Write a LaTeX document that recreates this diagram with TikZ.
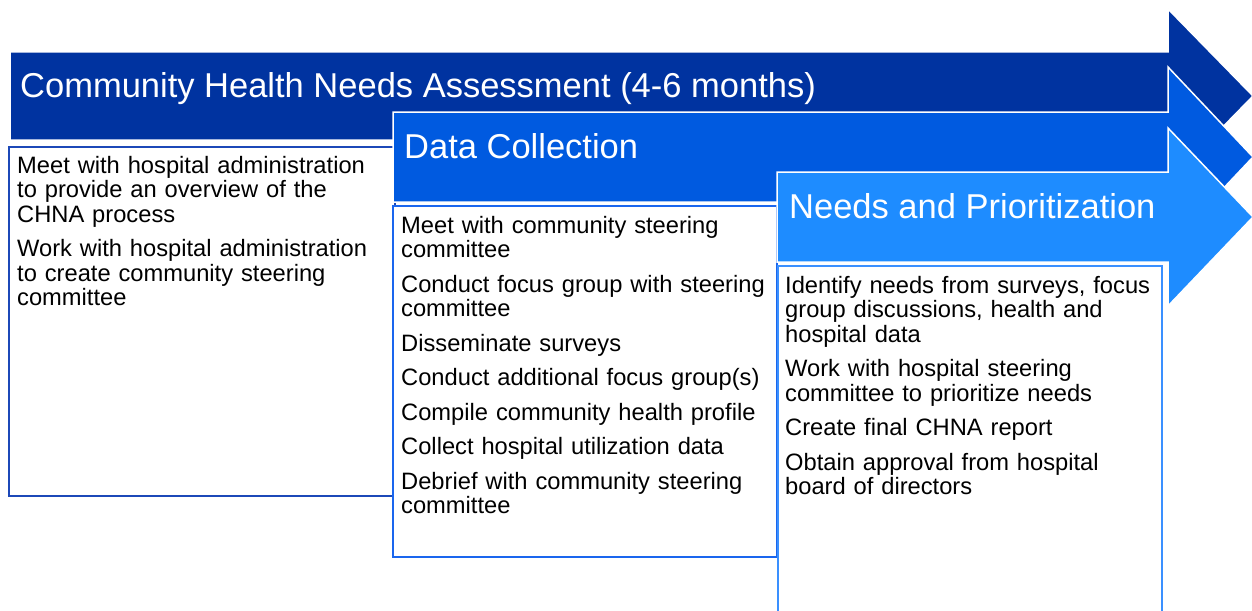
\documentclass[tikz,border=0pt]{standalone}
\usepackage{fontspec}
\setmainfont{Liberation Sans}
\definecolor{arrA}{HTML}{0033A0}
\definecolor{arrB}{HTML}{005AE0}
\definecolor{arrC}{HTML}{1E8CFF}
\definecolor{frmA}{HTML}{1C48B8}
\definecolor{frmB}{HTML}{1A66EE}
\definecolor{frmC}{HTML}{3A90FF}
\begin{document}
\begin{tikzpicture}[x=1pt,y=-1pt,
  arrowshape/.style={draw=white,line width=1.5pt,line join=miter},
  titletext/.style={anchor=base west,inner sep=0pt,text=white,font=\fontsize{34.5}{40}\selectfont},
  boxframe/.style={fill=white,line width=2.2pt},
  items/.style={anchor=north west,inner sep=0pt,text width=372pt,align=left,font=\fontsize{23.7}{24.5}\selectfont}]
\useasboundingbox (0,0) rectangle (1252,610);
% arrow 1
\path[arrowshape,fill=arrA] (10,52) -- (1168,52) -- (1168,9) -- (1253,96) -- (1168,183) -- (1168,140) -- (10,140) -- cycle;
\node[titletext] (title1) at (20,97) {Community Health Needs Assessment (4-6 months)};
% box 1
\draw[boxframe,draw=frmA] (9,147) rectangle (395,496);
\node[items] (list1) at (17,153) {\setlength\parskip{10pt}\rule{0pt}{20pt}Meet with hospital administration\\to provide an overview of the\\CHNA process\par
Work with hospital administration\\to create community steering\\committee};
% arrow 2
\path[arrowshape,fill=arrB] (393,112) -- (1168,112) -- (1168,67) -- (1253,157) -- (1168,247) -- (1168,202) -- (393,202) -- cycle;
\node[titletext] (title2) at (404,158) {Data Collection};
% box 2
\draw[boxframe,draw=frmB] (393,206) rectangle (777,557);
\node[items] (list2) at (401,213) {\setlength\parskip{10pt}\rule{0pt}{20pt}Meet with community steering\\committee\par
Conduct focus group with steering\\committee\par
Disseminate surveys\par
Conduct additional focus group(s)\par
Compile community health profile\par
Collect hospital utilization data\par
Debrief with community steering\\committee};
% arrow 3
\path[arrowshape,fill=arrC] (777,172) -- (1168,172) -- (1168,128) -- (1253,217) -- (1168,306) -- (1168,262) -- (777,262) -- cycle;
\node[titletext] (title3) at (789,218) {Needs and Prioritization};
% box 3
\draw[boxframe,draw=frmC] (778,266) rectangle (1162,616);
\node[items] (list3) at (785,273) {\setlength\parskip{10pt}\rule{0pt}{20pt}Identify needs from surveys, focus\\group discussions, health and\\hospital data\par
Work with hospital steering\\committee to prioritize needs\par
Create final CHNA report\par
Obtain approval from hospital\\board of directors};
\end{tikzpicture}
\end{document}
